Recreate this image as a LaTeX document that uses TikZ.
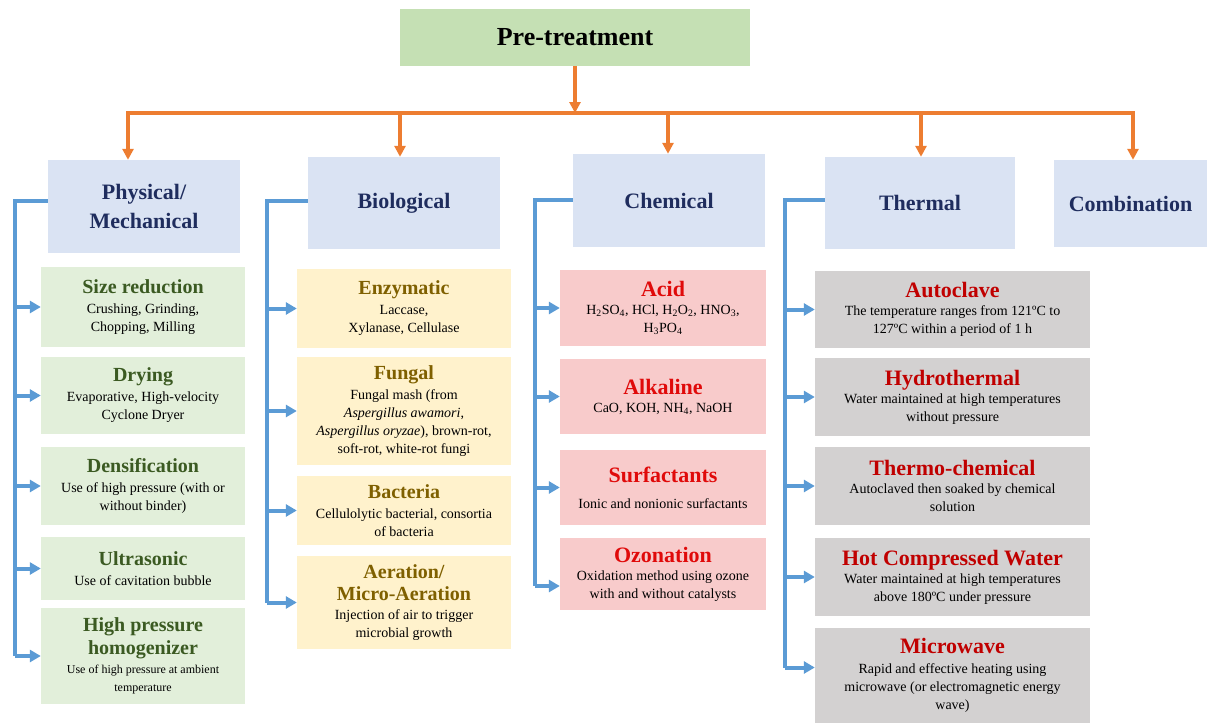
\documentclass[tikz,border=0pt]{standalone}
\usepackage{fontspec}
\setmainfont{Liberation Serif}
\usetikzlibrary{arrows.meta,calc}

\definecolor{pregreen}{HTML}{C5E0B4}
\definecolor{catblue}{HTML}{DAE3F3}
\definecolor{physfill}{HTML}{E2EFDA}
\definecolor{biofill}{HTML}{FFF2CC}
\definecolor{chemfill}{HTML}{F8CBCB}
\definecolor{thermfill}{HTML}{D3D1D1}
\definecolor{navytext}{HTML}{1F2D5E}
\definecolor{phystext}{HTML}{3B5A22}
\definecolor{biotext}{HTML}{7F6000}
\definecolor{chemtext}{HTML}{E00A0A}
\definecolor{thermtext}{HTML}{C00000}
\definecolor{orangec}{HTML}{ED7D31}
\definecolor{bluec}{HTML}{5B9BD5}

% heading styles inside the method boxes
\newcommand\hdphys[1]{{\fontsize{20}{23}\selectfont\bfseries\color{phystext}#1}}
\newcommand\hdbio[1]{{\fontsize{20}{23}\selectfont\bfseries\color{biotext}#1}}
\newcommand\hdchem[1]{{\fontsize{22}{25}\selectfont\bfseries\color{chemtext}#1}}
\newcommand\hdtherm[1]{{\fontsize{22}{25}\selectfont\bfseries\color{thermtext}#1}}

\tikzset{
  box/.style={inner sep=1pt, align=center, font=\fontsize{14}{18}\selectfont},
  prebox/.style={box, fill=pregreen, minimum width=350pt, minimum height=57pt,
    font=\fontsize{26}{30}\selectfont\bfseries},
  catbox/.style={box, fill=catblue, text=navytext,
    font=\fontsize{22}{27}\selectfont\bfseries},
  physbox/.style={box, fill=physfill, minimum width=204pt},
  biobox/.style={box, fill=biofill, minimum width=214pt},
  chembox/.style={box, fill=chemfill, minimum width=206pt},
  thermbox/.style={box, fill=thermfill, minimum width=275pt},
  orangeline/.style={draw=orangec, line width=3.5pt},
  orangearrow/.style={orangeline, -{Triangle[length=11pt,width=11pt]}},
  blueline/.style={draw=bluec, line width=4pt},
  bluearrow/.style={blueline, -{Triangle[length=11pt,width=12pt]}},
}

\begin{document}
\begin{tikzpicture}[x=1pt,y=-1pt]
\useasboundingbox (0,0) rectangle (1207,723);

% root
\node[prebox] (pre) at (575,37.5) {Pre-treatment};

% categories
\node[catbox, minimum width=192pt, minimum height=93pt] (phys) at (144,206.5) {Physical/\\[2pt]Mechanical};
\node[catbox, minimum width=192pt, minimum height=92pt] (bio) at (404,203) {Biological};
\node[catbox, minimum width=192pt, minimum height=93pt] (chem) at (669,200.5) {Chemical};
\node[catbox, minimum width=190pt, minimum height=92pt] (therm) at (920,203) {Thermal};
\node[catbox, minimum width=153pt, minimum height=87pt] (comb) at (1130.5,203.5) {Combination};

% physical / mechanical methods
\node[physbox, minimum height=80pt] (sr) at (143,307) {\hdphys{Size reduction}\\[2pt]Crushing, Grinding,\\Chopping, Milling};
\node[physbox, minimum height=77pt] (dry) at (143,395.5) {\hdphys{Drying}\\[2pt]Evaporative, High-velocity\\Cyclone Dryer};
\node[physbox, minimum height=78pt] (dens) at (143,486) {\hdphys{Densification}\\[2pt]Use of high pressure (with or\\without binder)};
\node[physbox, minimum height=63pt] (ultra) at (143,568.5) {\hdphys{Ultrasonic}\\[2pt]Use of cavitation bubble};
\node[physbox, minimum height=96pt] (hph) at (143,656) {\hdphys{High pressure}\\[4pt]\hdphys{homogenizer}\\[1pt]{\fontsize{12}{16}\selectfont Use of high pressure at ambient}\\{\fontsize{12}{16}\selectfont temperature}};

% biological methods
\node[biobox, minimum height=79pt] (enz) at (404,308.5) {\hdbio{Enzymatic}\\[2pt]Laccase,\\Xylanase, Cellulase};
\node[biobox, minimum height=108pt] (fung) at (404,411) {\hdbio{Fungal}\\[2pt]Fungal mash (from\\\textit{Aspergillus awamori},\\\textit{Aspergillus oryzae}), brown-rot,\\soft-rot, white-rot fungi};
\node[biobox, minimum height=69pt] (bact) at (404,510.5) {\hdbio{Bacteria}\\[2pt]Cellulolytic bacterial, consortia\\of bacteria};
\node[biobox, minimum height=93pt] (aer) at (404,602.5) {\hdbio{Aeration/}\\[4pt]\hdbio{Micro-Aeration}\\[1pt]Injection of air to trigger\\microbial growth};

% chemical methods
\node[chembox, minimum height=76pt] (acid) at (663,308) {\hdchem{Acid}\\H\textsubscript{2}SO\textsubscript{4}, HCl, H\textsubscript{2}O\textsubscript{2}, HNO\textsubscript{3},\\H\textsubscript{3}PO\textsubscript{4}};
\node[chembox, minimum height=75pt] (alk) at (663,396.5) {\hdchem{Alkaline}\\CaO, KOH, NH\textsubscript{4}, NaOH};
\node[chembox, minimum height=75pt] (surf) at (663,487.5) {\hdchem{Surfactants}\\[8pt]Ionic and nonionic surfactants};
\node[chembox, minimum height=72pt] (ozon) at (663,574) {\hdchem{Ozonation}\\Oxidation method using ozone\\with and without catalysts};

% thermal methods
\node[thermbox, minimum height=77pt] (auto) at (952.5,309.5) {\hdtherm{Autoclave}\\The temperature ranges from 121ºC to\\127ºC within a period of 1 h};
\node[thermbox, minimum height=78pt] (hydro) at (952.5,397) {\hdtherm{Hydrothermal}\\Water maintained at high temperatures\\without pressure};
\node[thermbox, minimum height=78pt] (tc) at (952.5,486) {\hdtherm{Thermo-chemical}\\Autoclaved then soaked by chemical\\solution};
\node[thermbox, minimum height=78pt] (hcw) at (952.5,577) {\hdtherm{Hot Compressed Water}\\Water maintained at high temperatures\\above 180ºC under pressure};
\node[thermbox, minimum height=95pt] (micro) at (952.5,675.5) {\hdtherm{Microwave}\\[2pt]Rapid and effective heating using\\microwave (or electromagnetic energy\\wave)};

% orange distribution bus from the root
\coordinate (busL) at (126,113);
\coordinate (busR) at (1135,113);
\draw[orangearrow] (pre.south) -- (pre.south |- busL);
\draw[orangeline] (busL) -- (busR);
\coordinate (d1) at (128,113);
\coordinate (d2) at (400,113);
\coordinate (d3) at (668,113);
\coordinate (d4) at (921,113);
\coordinate (d5) at (1133,113);
\draw[orangearrow] (d1) -- (d1 |- phys.north);
\draw[orangearrow] (d2) -- (d2 |- bio.north);
\draw[orangearrow] (d3) -- (d3 |- chem.north);
\draw[orangearrow] (d4) -- (d4 |- therm.north);
\draw[orangearrow] (d5) -- (d5 |- comb.north);

% blue brackets to the methods
\coordinate (sp1) at (15,0);
\coordinate (sp2) at (267,0);
\coordinate (sp3) at (535,0);
\coordinate (sp4) at (785,0);

\draw[blueline] ([yshift=6pt]phys.west) -| (sp1 |- hph.west);
\foreach \c in {sr,dry,dens,ultra,hph}
  \draw[bluearrow] (sp1 |- \c.west) -- (\c.west);

\draw[blueline] ([yshift=2pt]bio.west) -| (sp2 |- aer.west);
\foreach \c in {enz,fung,bact,aer}
  \draw[bluearrow] (sp2 |- \c.west) -- (\c.west);

\draw[blueline] ([yshift=1pt]chem.west) -| ($(sp3 |- ozon.west)+(0,12)$);
\foreach \c in {acid,alk,surf}
  \draw[bluearrow] (sp3 |- \c.west) -- (\c.west);
\draw[bluearrow] ($(sp3 |- ozon.west)+(0,12)$) -- ($(ozon.west)+(0,12)$);

\draw[blueline] ([yshift=3pt]therm.west) -| ($(sp4 |- micro.west)+(0,-8)$);
\foreach \c in {auto,hydro,tc,hcw}
  \draw[bluearrow] (sp4 |- \c.west) -- (\c.west);
\draw[bluearrow] ($(sp4 |- micro.west)+(0,-8)$) -- ($(micro.west)+(0,-8)$);
\end{tikzpicture}
\end{document}
